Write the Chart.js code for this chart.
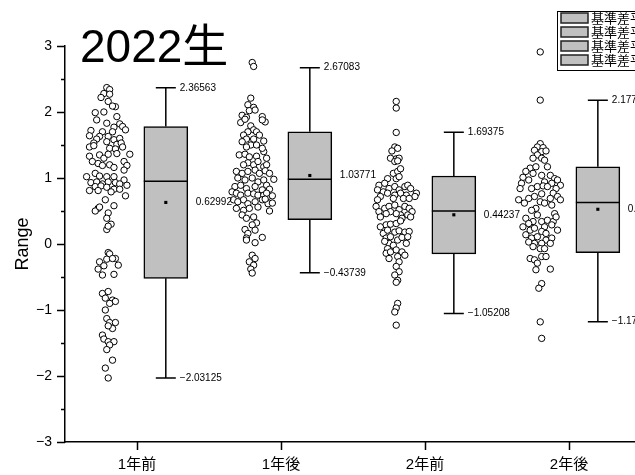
<!DOCTYPE html>
<html>
<head>
<meta charset="utf-8">
<script src="https://cdn.jsdelivr.net/npm/chart.js@4.4.1/dist/chart.umd.min.js"></script>
<style>
  html, body { margin: 0; padding: 0; background: #fff; }
  #chart { display: block; }
</style>
</head>
<body>
<canvas id="chart" width="635" height="475"></canvas>
<script>
const categories = ["1年前", "1年後", "2年前", "2年後"];
const legendLabels = ["基準差平均値", "基準差平均値", "基準差平均値", "基準差平均値"];

// box statistics
const whiskerHigh = [2.36563, 2.67083, 1.69375, 2.17708];
const q3Values = [1.78, 1.70, 1.03, 1.17];
const medianValues = [0.95, 0.98, 0.50, 0.63];
const q1Values = [-0.52, 0.37, -0.15, -0.13];
const whiskerLow = [-2.03125, -0.43739, -1.05208, -1.17708];
const meanValues = [0.62992, 1.03771, 0.44237, 0.52604];

// raw points (value) and their horizontal jitter (in category units)
const pre1Values = [2.37,2.34,2.28,2.27,2.22,2.16,2.08,2.09,1.99,2.00,
  1.93,1.88,1.83,1.82,1.72,1.70,1.77,1.78,1.73,1.64,
  1.63,1.63,1.70,1.59,1.58,1.60,1.53,1.55,1.51,1.53,
  1.47,1.45,1.47,1.49,1.44,1.36,1.33,1.35,1.30,1.36,
  1.37,1.25,1.22,1.19,1.20,1.16,1.25,1.19,1.12,1.02,
  1.07,1.03,1.02,1.02,0.97,0.93,0.94,0.91,0.94,0.93,
  0.91,0.81,0.87,0.88,0.86,0.83,0.83,0.89,0.73,0.79,
  0.81,0.67,0.58,0.54,0.50,0.56,0.47,0.39,0.30,0.22,
  0.27,-0.13,-0.15,-0.27,-0.23,-0.22,-0.32,-0.33,-0.38,-0.47,
  -0.46,-0.22,-0.75,-0.72,-0.82,-0.85,-0.87,-0.90,-1.00,-1.13,
  -1.19,-1.19,-1.28,-1.24,-1.38,-1.44,-1.48,-1.48,-1.53,-1.60,
  -1.76,-1.88,-2.03];
const pre1Jitter = [-0.01,0.01,-0.03,0.01,-0.05,0.00,0.05,0.03,-0.09,-0.03,
  0.06,-0.08,-0.01,0.08,-0.12,-0.04,0.04,0.10,0.12,-0.13,
  -0.06,0.00,0.03,-0.08,0.04,0.08,-0.10,-0.01,0.06,0.09,
  0.10,0.01,-0.13,-0.10,0.05,0.15,-0.13,-0.06,-0.03,0.00,
  0.06,-0.11,-0.07,-0.04,0.01,0.04,0.11,0.13,0.11,-0.15,
  -0.09,-0.06,-0.01,0.04,0.11,-0.12,-0.08,-0.04,0.00,0.05,
  0.08,-0.13,-0.09,-0.05,-0.01,0.04,0.08,0.13,0.12,0.02,
  -0.07,-0.02,0.04,-0.07,-0.09,-0.06,0.00,-0.01,0.02,-0.01,
  0.00,0.00,0.01,-0.06,-0.01,0.05,0.07,-0.03,-0.07,-0.04,
  0.04,0.03,-0.04,0.00,-0.02,0.03,0.05,0.01,-0.02,-0.01,
  0.01,0.05,0.03,0.00,-0.04,-0.03,0.00,0.04,0.01,-0.01,
  0.03,-0.02,0.00];

const post1Values = [2.75,2.69,2.21,2.11,2.07,2.02,2.03,1.95,1.92,1.84,
  1.89,1.93,1.85,1.88,1.79,1.73,1.70,1.70,1.65,1.65,
  1.59,1.59,1.55,1.56,1.50,1.50,1.47,1.35,1.36,1.32,
  1.33,1.40,1.30,1.45,1.23,1.20,1.25,1.17,1.20,1.20,
  1.10,1.07,1.10,1.12,1.07,1.11,1.07,1.00,0.97,1.00,
  0.94,0.97,0.98,0.89,0.87,0.89,0.84,0.87,0.82,0.83,
  0.79,0.77,0.74,0.77,0.76,0.74,0.74,0.72,0.73,0.77,
  0.67,0.64,0.67,0.61,0.64,0.67,0.61,0.62,0.68,0.54,
  0.51,0.54,0.56,0.50,0.44,0.39,0.41,0.32,0.29,0.22,
  0.16,0.21,0.09,0.10,0.06,0.02,-0.17,-0.22,-0.27,-0.32,
  -0.38,-0.44];
const post1Jitter = [0.00,0.01,-0.01,-0.03,0.01,-0.02,0.02,-0.07,-0.04,-0.08,
  -0.05,0.07,0.09,0.07,-0.01,0.01,0.03,-0.03,-0.06,0.05,
  -0.04,0.01,-0.07,0.08,-0.01,0.03,-0.04,-0.09,-0.05,-0.02,
  0.03,0.08,0.10,0.07,-0.03,0.01,0.04,0.08,0.10,-0.06,
  -0.11,-0.07,-0.03,0.02,0.05,0.09,0.12,-0.10,-0.05,0.00,
  0.04,0.08,0.15,0.10,-0.12,-0.08,-0.04,0.02,0.07,0.12,
  -0.14,-0.11,-0.08,-0.03,0.01,0.04,0.08,0.11,0.14,0.10,
  -0.13,-0.10,-0.06,-0.03,0.02,0.07,0.11,0.14,0.09,-0.11,
  -0.06,-0.02,0.04,0.12,-0.07,-0.04,0.01,0.03,0.00,-0.05,
  -0.03,0.02,-0.04,0.07,-0.04,0.02,0.00,0.02,-0.02,0.01,
  -0.01,0.00];

const pre2Values = [2.16,2.06,1.69,1.47,1.45,1.41,1.30,1.29,1.30,1.25,1.26,
  0.99,1.07,1.10,1.14,0.99,1.02,
  0.89,0.92,0.82,0.79,0.84,0.87,0.82,0.87,0.89,0.84,0.77,0.72,0.74,0.77,0.74,0.77,0.72,0.67,0.69,0.69,0.69,
  0.57,0.49,0.54,0.57,0.59,0.52,0.57,0.54,0.49,0.44,0.44,0.46,0.49,0.46,0.41,0.41,0.39,
  0.26,0.29,0.30,0.31,0.35,0.16,0.21,0.18,0.20,0.18,0.19,0.09,0.11,0.06,0.10,0.11,0.01,0.01,0.04,
  -0.07,-0.02,-0.14,-0.12,-0.09,-0.12,-0.22,-0.19,-0.17,-0.27,
  -0.34,-0.42,-0.47,-0.55,-0.58,
  -0.90,-0.97,-1.03,-1.23];
const pre2Jitter = [0.00,0.00,0.00,-0.01,0.01,-0.03,-0.04,0.00,0.02,-0.01,0.01,
  -0.06,-0.02,0.01,0.03,0.00,0.02,
  -0.12,-0.08,-0.13,-0.09,-0.05,-0.01,0.02,0.06,0.08,0.10,0.14,0.13,0.07,0.03,-0.01,-0.06,-0.11,-0.13,-0.02,0.05,0.09,
  -0.14,-0.12,-0.08,-0.05,-0.01,0.02,0.06,0.09,0.11,0.08,0.03,0.00,-0.04,-0.07,-0.11,0.10,0.04,
  -0.11,-0.07,-0.04,0.00,0.03,-0.09,-0.06,-0.01,0.02,0.06,0.09,-0.07,-0.04,0.01,0.04,0.08,-0.05,0.07,-0.08,
  -0.06,-0.02,-0.07,-0.04,0.00,0.04,-0.05,0.01,0.06,0.02,
  0.00,0.02,-0.01,0.01,0.00,
  0.01,0.00,-0.01,0.00];

const post2Values = [2.91,2.18,
  1.52,1.47,1.46,1.40,1.42,1.41,1.35,1.30,1.30,1.27,
  1.15,1.17,1.17,1.07,1.04,1.04,1.10,0.99,0.97,0.94,0.92,0.97,1.01,0.92,0.89,
  0.84,0.84,0.87,0.88,0.87,0.84,0.76,0.72,0.69,0.77,0.72,0.69,0.64,0.67,0.62,0.67,0.62,0.59,
  0.54,0.51,0.46,0.39,0.34,0.36,0.34,0.34,0.41,0.44,0.31,0.29,0.21,0.26,
  0.26,0.21,0.24,0.19,0.16,0.14,0.09,0.11,0.06,0.09,0.01,0.01,0.01,0.03,
  -0.04,-0.07,-0.07,-0.22,-0.24,-0.19,-0.19,-0.29,-0.39,-0.38,
  -0.60,-0.67,-1.18,-1.43];
const post2Jitter = [0.00,0.00,
  0.00,-0.02,0.02,0.01,-0.04,0.04,-0.02,0.01,-0.05,0.03,
  -0.07,-0.03,0.05,-0.05,0.01,0.07,-0.10,0.10,0.12,0.03,0.08,-0.08,-0.12,-0.13,0.14,
  -0.14,-0.06,-0.02,0.02,0.05,0.11,0.01,-0.04,-0.08,0.09,0.12,0.07,0.00,-0.15,-0.11,0.14,0.03,0.08,
  -0.03,-0.06,0.10,-0.10,0.01,0.05,0.09,-0.05,0.11,-0.02,-0.08,0.08,0.12,0.03,
  -0.12,-0.07,-0.04,0.01,0.04,-0.10,-0.06,-0.02,0.04,0.08,-0.04,0.01,0.07,-0.08,
  -0.05,0.00,0.03,-0.07,-0.04,0.01,0.04,-0.02,-0.03,0.07,
  0.01,-0.01,0.00,0.01];

const FONT = '"Liberation Sans", Arial, "Noto Sans CJK JP", sans-serif';
const BOX_SHIFT = 0.2;     // boxes sit right of the category tick
const CLOUD_SHIFT = -0.2;  // point clouds sit left of it

const groups = [
  [pre1Values, pre1Jitter],
  [post1Values, post1Jitter],
  [pre2Values, pre2Jitter],
  [post2Values, post2Jitter]
];

const cloudPoints = [];
groups.forEach(([vals, jit], i) => {
  vals.forEach((v, k) => {
    cloudPoints.push({ x: i + 0.5 + CLOUD_SHIFT + jit[k], y: v });
  });
});

function fmt(v) {
  return String(v).replace("-", "\u2212");
}

// whiskers, caps, medians and the value labels
const boxExtras = {
  id: "boxExtras",
  afterDatasetsDraw(chart) {
    const { ctx, scales } = chart;
    const x = scales.x, y = scales.y;
    ctx.save();
    ctx.strokeStyle = "#000";
    ctx.lineWidth = 1.5;
    ctx.fillStyle = "#000";
    ctx.font = "10px " + FONT;
    ctx.textBaseline = "middle";
    ctx.textAlign = "left";
    categories.forEach((c, i) => {
      const cx = x.getPixelForValue(i + 0.5 + BOX_SHIFT);
      const half = 22, cap = 10;
      const yHi = y.getPixelForValue(whiskerHigh[i]);
      const yLo = y.getPixelForValue(whiskerLow[i]);
      const yQ3 = y.getPixelForValue(q3Values[i]);
      const yQ1 = y.getPixelForValue(q1Values[i]);
      const yMed = y.getPixelForValue(medianValues[i]);
      const yMean = y.getPixelForValue(meanValues[i]);
      ctx.beginPath();
      ctx.moveTo(cx, yQ3); ctx.lineTo(cx, yHi);
      ctx.moveTo(cx, yQ1); ctx.lineTo(cx, yLo);
      ctx.moveTo(cx - cap, yHi); ctx.lineTo(cx + cap, yHi);
      ctx.moveTo(cx - cap, yLo); ctx.lineTo(cx + cap, yLo);
      ctx.moveTo(cx - half, yMed); ctx.lineTo(cx + half, yMed);
      ctx.stroke();
      ctx.fillText(fmt(whiskerHigh[i]), cx + cap + 4, yHi);
      ctx.fillText(fmt(whiskerLow[i]), cx + cap + 4, yLo);
      ctx.fillText(fmt(meanValues[i]), cx + half + 8, yMean);
    });
    ctx.restore();
  }
};

// tick marks (major + minor), title, axis title, legend
const decorations = {
  id: "decorations",
  afterDraw(chart) {
    const { ctx, scales, chartArea } = chart;
    const x = scales.x, y = scales.y;
    ctx.save();
    ctx.strokeStyle = "#000";
    ctx.lineWidth = 1.5;
    ctx.beginPath();
    for (let v = -3; v <= 3; v += 0.5) {
      const py = Math.round(y.getPixelForValue(v)) + 0.5;
      const len = Number.isInteger(v) ? 8 : 4;
      ctx.moveTo(chartArea.left - len, py);
      ctx.lineTo(chartArea.left, py);
    }
    categories.forEach((c, i) => {
      const px = Math.round(x.getPixelForValue(i + 0.5)) + 0.5;
      ctx.moveTo(px, chartArea.bottom);
      ctx.lineTo(px, chartArea.bottom + 8);
    });
    ctx.stroke();

    ctx.fillStyle = "#000";
    ctx.textAlign = "left";
    ctx.textBaseline = "alphabetic";
    ctx.font = "46px " + FONT;
    ctx.fillText("2022生", 80, 62);

    ctx.save();
    ctx.translate(28, (chartArea.top + chartArea.bottom) / 2);
    ctx.rotate(-Math.PI / 2);
    ctx.textAlign = "center";
    ctx.font = "18px " + FONT;
    ctx.fillText("Range", 0, 0);
    ctx.restore();

    // legend box, cut by the right edge like the original
    ctx.fillStyle = "#fff";
    ctx.fillRect(557, 11, 90, 59);
    ctx.lineWidth = 1;
    ctx.strokeStyle = "#000";
    ctx.strokeRect(557.5, 11.5, 90, 59);
    ctx.font = '13px "Noto Sans CJK JP", sans-serif';
    ctx.textBaseline = "middle";
    legendLabels.forEach((label, k) => {
      const top = 13 + k * 14;
      ctx.fillStyle = "#c0c0c0";
      ctx.fillRect(561, top, 27, 10);
      ctx.lineWidth = 1.5;
      ctx.strokeStyle = "#222";
      ctx.strokeRect(561, top, 27, 10);
      ctx.fillStyle = "#000";
      ctx.fillText(label, 591, top + 5);
    });
    ctx.restore();
  }
};

new Chart(document.getElementById("chart"), {
  type: "bar",
  data: {
    datasets: [
      {
        type: "scatter",
        data: meanValues.map((m, i) => ({ x: i + 0.5 + BOX_SHIFT, y: m })),
        pointStyle: "rect",
        pointRadius: 2.2,
        pointBorderWidth: 0,
        backgroundColor: "#000",
        borderColor: "#000"
      },
      {
        type: "scatter",
        data: cloudPoints,
        pointRadius: 3.2,
        pointBorderWidth: 1,
        borderColor: "#000",
        backgroundColor: "#fff"
      },
      {
        type: "bar",
        data: categories.map((c, i) => ({ x: i + 0.5 + BOX_SHIFT, y: [q1Values[i], q3Values[i]] })),
        backgroundColor: "#c0c0c0",
        borderColor: "#000",
        borderWidth: 1.5,
        borderSkipped: false,
        barThickness: 44
      }
    ]
  },
  options: {
    responsive: false,
    animation: false,
    devicePixelRatio: 1,
    layout: { autoPadding: false, padding: { top: 46, left: 0, right: 0, bottom: 0 } },
    plugins: {
      legend: { display: false },
      tooltip: { enabled: false }
    },
    scales: {
      x: {
        type: "linear",
        offset: false,
        min: 0,
        max: 3.958,
        grid: { display: true, drawOnChartArea: false, drawTicks: false, offset: false },
        border: { display: true, color: "#000", width: 1.5 },
        afterBuildTicks: (s) => {
          s.ticks = categories.map((c, i) => ({ value: i + 0.5 }));
        },
        afterFit: (s) => { s.height = 33; },
        ticks: {
          autoSkip: false,
          maxRotation: 0,
          padding: 14,
          color: "#000",
          font: { family: FONT, size: 15 },
          callback: (v) => categories[Math.round(v - 0.5)]
        }
      },
      y: {
        type: "linear",
        min: -3,
        max: 3,
        grid: { display: true, drawOnChartArea: false, drawTicks: false },
        border: { display: true, color: "#000", width: 1.5 },
        afterFit: (s) => { s.width = 65; },
        ticks: {
          stepSize: 1,
          padding: 13,
          color: "#000",
          font: { family: FONT, size: 14 },
          callback: (v) => fmt(v)
        }
      }
    }
  },
  plugins: [boxExtras, decorations]
});
</script>
</body>
</html>
